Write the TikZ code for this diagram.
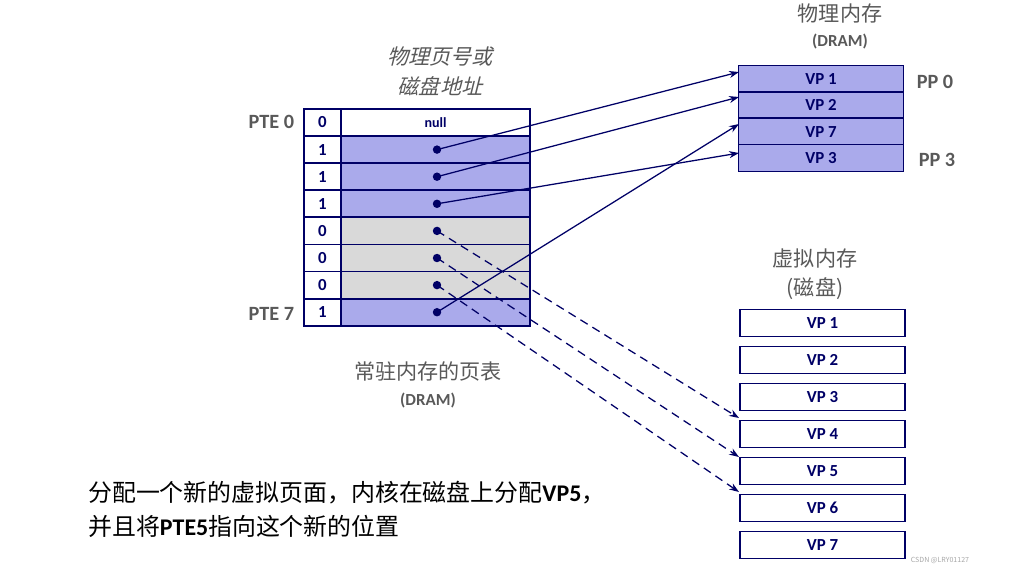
\documentclass[tikz,border=0pt]{standalone}
\usepackage{fontspec}
\setmainfont{Carlito}
\newfontfamily\cjk{Noto Sans CJK SC}
\newfontfamily\cjkslant{Noto Sans CJK SC}[FakeSlant=0.25]
\usetikzlibrary{arrows.meta}
\definecolor{navy}{RGB}{0,0,102}
\definecolor{pagefill}{RGB}{170,170,235}
\definecolor{diskfill}{RGB}{217,217,217}
\definecolor{labelgray}{RGB}{89,89,89}
\tikzset{
  cell/.style={draw=navy, line width=1.2pt, minimum height=27*0.025cm, inner sep=0pt},
  vp/.style={cell, minimum width=165*0.025cm, font=\bfseries\large, text=navy},
  bit/.style={cell, minimum width=37*0.025cm, fill=white, font=\bfseries\large, text=navy},
  addr/.style={cell, minimum width=189*0.025cm},
  lbl/.style={font=\bfseries\Large, text=labelgray},
  zh/.style={font=\cjk\fontsize{15}{18}\selectfont, text=labelgray},
  ptr/.style={navy, line width=0.9pt, -{Stealth[length=7pt,width=5pt]}},
  dot/.style={circle, fill=navy, inner sep=0pt, minimum size=6pt}
}
\begin{document}
\begin{tikzpicture}[x=0.025cm, y=-0.025cm]
    \useasboundingbox (0,0) rectangle (1011,575);
    % page table
    \foreach \i/\b/\c in {0/0/white,1/1/pagefill,2/1/pagefill,3/1/pagefill,
                          4/0/diskfill,5/0/diskfill,6/0/diskfill,7/1/pagefill} {
      \node [bit] (b\i) at (322.5,{122.5+27.1*\i}) {\b};
      \node [addr, fill=\c] (r\i) at (435.5,{122.5+27.1*\i}) {};
      \ifnum\i>0 \node [dot] (d\i) at (437,{122.5+27.1*\i}) {}; \fi
    }
    \node [font=\bfseries\normalsize, text=navy] (null) at (r0) {null};
    \node [lbl, anchor=east] (pte0) at (299,122) {PTE 0};
    \node [lbl, anchor=east] (pte7) at (299,314) {PTE 7};
    \node [zh, font=\cjkslant\fontsize{15}{18}\selectfont] (cap1) at (440,57) {物理页号或};
    \node [zh, font=\cjkslant\fontsize{15}{18}\selectfont] (cap2) at (440,86) {磁盘地址};
    \node [zh] (res1) at (428,371) {常驻内存的页表};
    \node [lbl, font=\bfseries\large] (res2) at (428,401) {(DRAM)};
    % physical memory
    \foreach \n/\v in {0/1,1/2,2/7,3/3}
      \node [vp, fill=pagefill] (p\n) at (821,{79+26.3*\n}) {VP \v};
    \node [zh] (phys1) at (840,13) {物理内存};
    \node [lbl, font=\bfseries\large] (phys2) at (840,42) {(DRAM)};
    \node [lbl] (pp0) at (935,82) {PP 0};
    \node [lbl] (pp3) at (937,160) {PP 3};
    % virtual memory
    \foreach \n in {1,...,7}
      \node [vp, fill=white] (v\n) at (822.5,{323+37*(\n-1)}) {VP \n};
    \node [zh] (virt1) at (815,258) {虚拟内存};
    \node [zh] (virt2) at (815,289) {(磁盘)};
    % pointers
    \coordinate (a1) at (739,72);
    \coordinate (a2) at (739,97);
    \coordinate (a7) at (739,124);
    \coordinate (a3) at (739,153);
    \coordinate (a4) at (739,418);
    \coordinate (a5) at (739,457);
    \coordinate (a6) at (739,492);
    \draw [ptr] (d1.center) -- (a1);
    \draw [ptr] (d2.center) -- (a2);
    \draw [ptr] (d3.center) -- (a3);
    \draw [ptr] (d7.center) -- (a7);
    \draw [ptr, dash pattern=on 6pt off 4pt] (d4.center) -- (a4);
    \draw [ptr, dash pattern=on 6pt off 4pt] (d5.center) -- (a5);
    \draw [ptr, dash pattern=on 6pt off 4pt] (d6.center) -- (a6);
    % note
    \node [anchor=west, font=\fontsize{17}{20}\selectfont, inner sep=0pt] (note1) at (88,493)
      {{\cjk 分配一个新的虚拟页面，内核在磁盘上分配}\textbf{VP5}{\cjk ，}};
    \node [anchor=west, font=\fontsize{17}{20}\selectfont, inner sep=0pt] (note2) at (88,526)
      {{\cjk 并且将}\textbf{PTE5}{\cjk 指向这个新的位置}};
    \node [font=\cjk\tiny, text=gray!70] (mark) at (940,560) {CSDN @LRY01127};
\end{tikzpicture}
\end{document}
